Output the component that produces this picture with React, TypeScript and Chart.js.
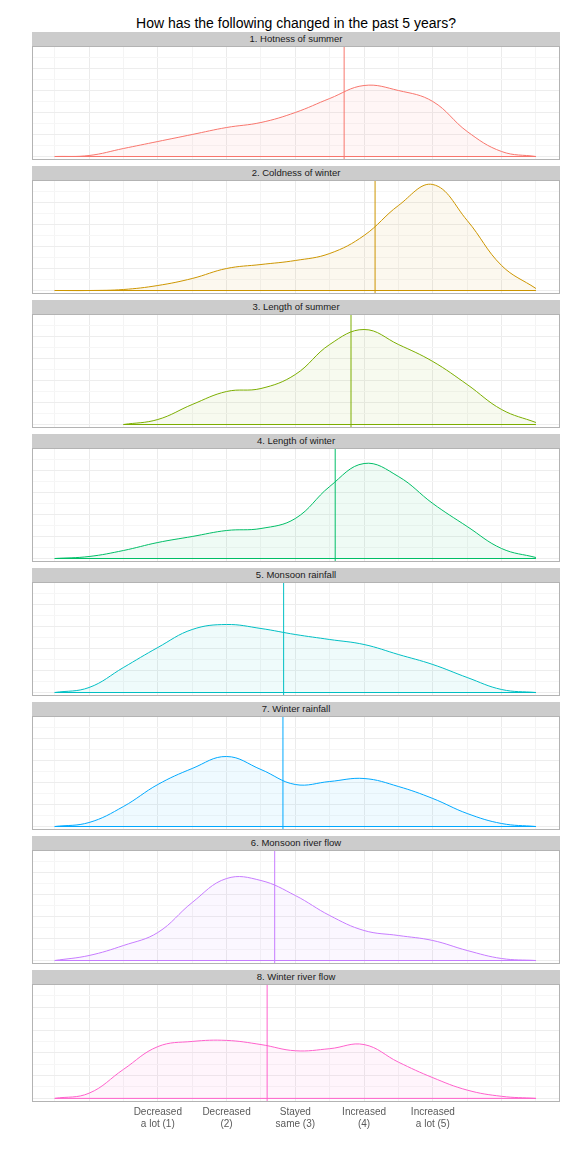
import { useEffect, useRef } from "react";
import { Chart, registerables } from "chart.js";

Chart.register(...registerables);

const xGrid = [-0.5, 0, 0.5, 1, 1.5, 2, 2.5, 3, 3.5, 4, 4.5, 5, 5.5, 6, 6.5];

const panelTitles = [
  "1. Hotness of summer",
  "2. Coldness of winter",
  "3. Length of summer",
  "4. Length of winter",
  "5. Monsoon rainfall",
  "7. Winter rainfall",
  "6. Monsoon river flow",
  "8. Winter river flow",
];

const panelColors = ["#F8766D", "#CD9600", "#7CAE00", "#00BE67", "#00BFC4", "#00A9FF", "#C77CFF", "#FF61CC"];

const hotSummer = [0, 1, 8, 15, 22, 29, 34, 44, 58, 71, 66, 55, 25, 5, 0];
const coldWinter = [0, 0, 1, 5, 12, 22, 26, 30, 37, 55, 85, 106, 70, 25, 2];
const lenSummer = [null, null, 0, 5, 20, 33, 36, 50, 80, 95, 80, 63, 40, 15, 2];
const lenWinter = [0, 2, 8, 16, 22, 28, 30, 40, 72, 95, 82, 55, 32, 10, 1];
const monsoonRain = [0, 5, 25, 45, 63, 68, 64, 58, 53, 48, 38, 28, 15, 3, 0];
const winterRain = [0, 4, 20, 42, 58, 70, 57, 42, 45, 48, 40, 28, 13, 3, 0];
const monsoonFlow = [0, 5, 15, 28, 58, 82, 80, 65, 45, 30, 25, 20, 10, 2, 0];
const winterFlow = [0, 5, 28, 50, 55, 56, 52, 46, 48, 52, 35, 20, 8, 2, 0];

const panelValues = [hotSummer, coldWinter, lenSummer, lenWinter, monsoonRain, winterRain, monsoonFlow, winterFlow];
const panelMeans = [3.71, 4.16, 3.81, 3.58, 2.83, 2.82, 2.7, 2.59];

const tickLabels: Record<number, string[]> = {
  1: ["Decreased", "a lot (1)"],
  2: ["Decreased", "(2)"],
  3: ["Stayed", "same (3)"],
  4: ["Increased", "(4)"],
  5: ["Increased", "a lot (5)"],
};

const framePlugin = {
  id: "frame",
  afterDraw(chart: Chart) {
    const { ctx, chartArea: a } = chart;
    ctx.save();
    ctx.strokeStyle = "#b3b3b3";
    ctx.lineWidth = 1;
    ctx.strokeRect(a.left + 0.5, a.top + 0.5, a.width - 1, a.height - 1);
    ctx.restore();
  },
};

function Panel({ idx, showAxis }: { idx: number; showAxis: boolean }) {
  const ref = useRef<HTMLCanvasElement>(null);
  useEffect(() => {
    if (!ref.current) return;
    const color = panelColors[idx];
    const vals = panelValues[idx];
    const pts = xGrid.map((x, i) => ({ x, y: vals[i] })).filter((p) => p.y !== null);
    const chart = new Chart(ref.current, {
      type: "line",
      data: {
        datasets: [
          {
            data: pts as any,
            borderColor: color,
            backgroundColor: color + "10",
            borderWidth: 1,
            fill: "origin",
            tension: 0.4,
            pointRadius: 0,
          },
          {
            data: [
              { x: pts[0].x, y: 0 },
              { x: pts[pts.length - 1].x, y: 0 },
            ],
            borderColor: color,
            borderWidth: 1,
            pointRadius: 0,
            fill: false,
          },
          {
            data: [
              { x: panelMeans[idx], y: -10 },
              { x: panelMeans[idx], y: 200 },
            ],
            borderColor: color,
            borderWidth: 1,
            pointRadius: 0,
            fill: false,
          },
        ],
      },
      options: {
        animation: false,
        responsive: false,
        layout: { padding: 0 },
        plugins: { legend: { display: false }, tooltip: { enabled: false } },
        scales: {
          x: {
            type: "linear",
            min: -0.83,
            max: 6.85,
            afterBuildTicks: (s: any) => {
              s.ticks = [];
              for (let v = -0.5; v <= 6.5; v += 0.5) s.ticks.push({ value: v });
            },
            grid: {
              color: (c: any) => (Number.isInteger(c.tick?.value) ? "#ebebeb" : "#f4f4f4"),
              drawTicks: false,
              lineWidth: 1,
            },
            border: { display: false },
            ticks: {
              display: showAxis,
              autoSkip: false,
              maxRotation: 0,
              padding: 4,
              color: "#5a5a5a",
              font: { family: "Arial, Liberation Sans", size: 10 },
              callback: (v: any) => tickLabels[v as number] || "",
            },
          },
          y: {
            min: -3.5,
            max: 110.5,
            afterBuildTicks: (s: any) => {
              s.ticks = [];
              for (let v = 0; v <= 110; v += 11) s.ticks.push({ value: v });
            },
            grid: {
              color: (c: any) => (Math.round(c.tick?.value / 11) % 2 === 0 ? "#ededed" : "#f6f6f6"),
              drawTicks: false,
            },
            border: { display: false },
            ticks: { display: false },
          },
        },
      },
      plugins: [framePlugin],
    });
    return () => chart.destroy();
  }, [idx, showAxis]);
  return (
    <div style={{ width: 528, marginLeft: 32, marginBottom: 6 }}>
      <div
        style={{
          background: "#cccccc",
          height: 14,
          lineHeight: "14px",
          textAlign: "center",
          fontFamily: "Arial, Liberation Sans",
          fontSize: 9.5,
          color: "#1a1a1a",
        }}
      >
        {panelTitles[idx]}
      </div>
      <canvas ref={ref} width={528} height={showAxis ? 150 : 114} style={{ display: "block" }} />
    </div>
  );
}

export default function App() {
  return (
    <div style={{ position: "absolute", left: 0, top: 0, width: 576, background: "#fff" }}>
      <div
        style={{
          height: 32,
          lineHeight: "46px",
          textAlign: "center",
          paddingLeft: 16,
          fontFamily: "Arial, Liberation Sans",
          fontSize: 14,
          color: "#000",
        }}
      >
        How has the following changed in the past 5 years?
      </div>
      {panelTitles.map((_, i) => (
        <Panel key={i} idx={i} showAxis={i === panelTitles.length - 1} />
      ))}
    </div>
  );
}
